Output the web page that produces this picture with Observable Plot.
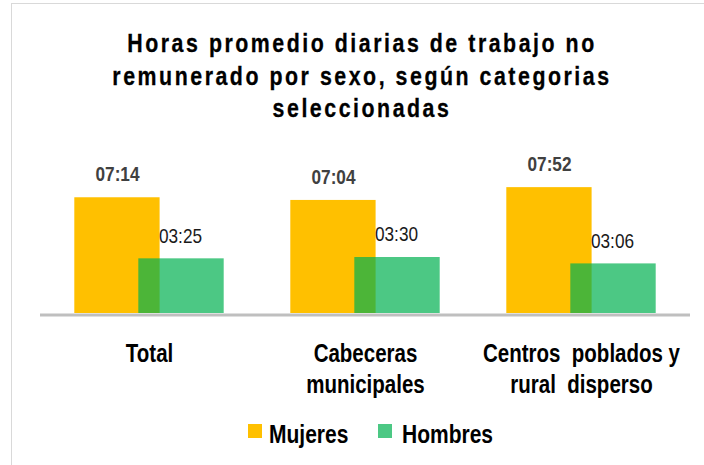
<!DOCTYPE html>
<html>
<head>
<meta charset="utf-8">
<script src="https://cdn.jsdelivr.net/npm/d3@7"></script>
<script src="https://cdn.jsdelivr.net/npm/@observablehq/plot@0.6"></script>
<style>
  body { margin: 0; background: #fff; }
  #wrap { position: relative; width: 704px; height: 465px; overflow: hidden;
          font-family: "Liberation Sans", Arial, sans-serif; }
  #frame { position: absolute; left: 11px; top: 3px; width: 720px; height: 480px;
           border-left: 1.5px solid #d9d9d9; border-top: 1.5px solid #d9d9d9; }
  #title { position: absolute; left: 10px; top: 27px; width: 704px; text-align: center;
           font-weight: bold; font-size: 26px; line-height: 32.5px; letter-spacing: 3.1px; color: #000;
           -webkit-text-stroke: 0.3px #000;
           transform: scaleX(0.82); transform-origin: 50% 0; white-space: nowrap; }
  #chart { position: absolute; left: 0; top: 140px; }
  .sw { position: absolute; width: 14px; height: 14px; top: 424px; }
  .lt { position: absolute; top: 422px; font-size: 25px; line-height: 25px; font-weight: bold; color: #000;
        transform: scaleX(0.84); transform-origin: 0 0; white-space: nowrap; }
</style>
</head>
<body>
<div id="wrap">
  <div id="frame"></div>
  <div id="title">Horas promedio diarias de trabajo no<br>remunerado por sexo, según categorias<br>seleccionadas</div>
  <div id="chart"></div>
  <div id="legend"></div>
</div>
<script>
const categories = ["Total", "Cabeceras municipales", "Centros poblados y rural disperso"];
const categoryLabels = ["Total", "Cabeceras\nmunicipales", "Centros  poblados y\nrural  disperso"];
const series = ["Mujeres", "Hombres"];
const colors = ["#FFC000", "#00B050"];
const mujeres = ["07:14", "07:04", "07:52"];
const hombres = ["03:25", "03:30", "03:06"];

const toHours = s => { const [h, m] = s.split(":").map(Number); return h + m / 60; };
const dataM = categories.map((c, i) => ({cat: c, value: toHours(mujeres[i]), label: mujeres[i]}));
const dataH = categories.map((c, i) => ({cat: c, value: toHours(hombres[i]), label: hombres[i]}));
const catData = categories.map((c, i) => ({cat: c, label: categoryLabels[i]}));

const font = '"Liberation Sans", Arial, sans-serif';

const chart = Plot.plot({
  width: 704,
  height: 270,
  marginTop: 13,
  marginBottom: 97,
  marginLeft: 40,
  marginRight: 14,
  style: {fontFamily: font, background: "transparent", overflow: "visible"},
  x: {domain: categories, padding: 0, axis: null},
  y: {domain: [0, 10], axis: null},
  marks: [
    Plot.ruleY([0], {stroke: "#BFBFBF", strokeWidth: 3, dy: 1.5}),
    Plot.barY(dataM, {x: "cat", y: "value", fill: colors[0], insetLeft: 33.3, insetRight: 97.4}),
    Plot.barY(dataH, {x: "cat", y: "value", fill: colors[1], fillOpacity: 0.7, insetLeft: 97.3, insetRight: 33.3}),
    Plot.text(dataM, {x: "cat", y: "value", text: "label", dx: -32, dy: -16.7, lineAnchor: "bottom",
                      fontSize: 21, fontWeight: "bold", fill: "#404040"}),
    Plot.text(dataH, {x: "cat", y: "value", text: "label", dx: 31, dy: -16.3, lineAnchor: "bottom",
                      fontSize: 21, fill: "#1a1a1a"}),
    Plot.text(catData, {x: "cat", y: d => 0, text: "label", lineAnchor: "top", dy: 26,
                        fontSize: 25, fontWeight: "bold", lineHeight: 1.24, fill: "#000"})
  ]
});
// condensed look: squeeze each text horizontally around its anchor
d3.select(chart).selectAll("text").each(function () {
  const t = this.getAttribute("transform") || "";
  this.setAttribute("transform", t + " scale(0.82,1)");
  this.setAttribute("xml:space", "preserve");
  this.style.whiteSpace = "pre";
});
document.getElementById("chart").appendChild(chart);

// Legend
const legend = document.getElementById("legend");
const swX = [248, 378];
const txX = [269, 401.5];
series.forEach((s, i) => {
  const sw = document.createElement("div");
  sw.className = "sw";
  sw.style.left = swX[i] + "px";
  sw.style.background = i === 0 ? colors[0] : "rgba(0,176,80,0.7)";
  legend.appendChild(sw);
  const t = document.createElement("div");
  t.className = "lt";
  t.style.left = txX[i] + "px";
  t.textContent = s;
  legend.appendChild(t);
});
</script>
</body>
</html>
